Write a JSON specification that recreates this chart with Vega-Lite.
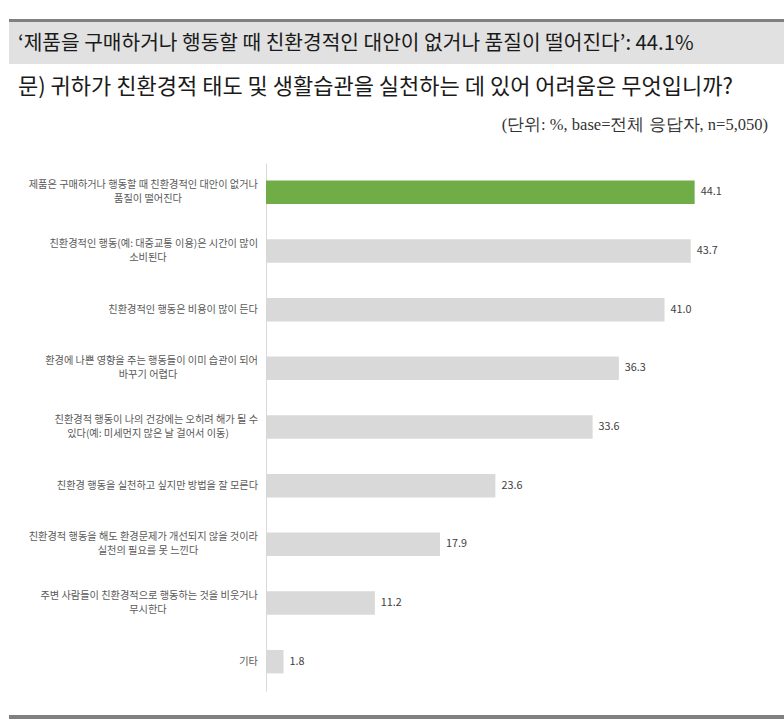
{
  "$schema": "https://vega.github.io/schema/vega-lite/v6.json",
  "padding": {"left": 9, "top": 19, "right": 0, "bottom": 0},
  "background": "white",
  "config": {
    "view": {"stroke": null},
    "concat": {"spacing": 0},
    "title": {"font": "Noto Sans CJK KR", "fontWeight": "normal", "color": "#1a1a1a"}
  },
  "spacing": 0,
  "vconcat": [
    {
      "width": 775, "height": 3,
      "view": {"fill": "#808080", "stroke": null},
      "data": {"values": []},
      "mark": "point"
    },
    {
      "width": 775, "height": 42,
      "view": {"fill": "#e1e1e1", "stroke": null},
      "data": {"values": []},
      "mark": "point",
      "title": {
        "text": "‘제품을 구매하거나 행동할 때 친환경적인 대안이 없거나 품질이 떨어진다’: 44.1%",
        "orient": "bottom", "anchor": "start", "offset": -30, "dx": 9,
        "fontSize": 20.3
      }
    },
    {
      "width": 775, "height": 44,
      "data": {"values": []},
      "mark": "point",
      "title": {
        "text": "문) 귀하가 친환경적 태도 및 생활습관을 실천하는 데 있어 어려움은 무엇입니까?",
        "orient": "bottom", "anchor": "start", "offset": -31, "dx": 9,
        "fontSize": 22
      }
    },
    {
      "width": 775, "height": 55,
      "data": {"values": []},
      "mark": "point",
      "title": {
        "text": "(단위: %, base=전체 응답자, n=5,050)",
        "orient": "bottom", "anchor": "end", "offset": -46, "dx": -16,
        "fontSize": 16.5, "font": "Liberation Serif", "color": "#333333"
      }
    },
    {
      "bounds": "flush",
      "spacing": 0,
      "hconcat": [
        {
          "width": 257, "height": 528,
          "data": {"values": []},
          "mark": "point"
        },
        {
          "width": 486, "height": 528,
          "data": {
            "values": [
              {"item": "제품은 구매하거나 행동할 때 친환경적인 대안이 없거나", "line2": "품질이 떨어진다", "value": 44.1},
              {"item": "친환경적인 행동(예: 대중교통 이용)은 시간이 많이", "line2": "소비된다", "value": 43.7},
              {"item": "친환경적인 행동은 비용이 많이 든다", "line2": "", "value": 41.0},
              {"item": "환경에 나쁜 영향을 주는 행동들이 이미 습관이 되어", "line2": "바꾸기 어렵다", "value": 36.3},
              {"item": "친환경적 행동이 나의 건강에는 오히려 해가 될 수", "line2": "있다(예: 미세먼지 많은 날 걸어서 이동)", "value": 33.6},
              {"item": "친환경 행동을 실천하고 싶지만 방법을 잘 모른다", "line2": "", "value": 23.6},
              {"item": "친환경적 행동을 해도 환경문제가 개선되지 않을 것이라", "line2": "실천의 필요를 못 느낀다", "value": 17.9},
              {"item": "주변 사람들이 친환경적으로 행동하는 것을 비웃거나", "line2": "무시한다", "value": 11.2},
              {"item": "기타", "line2": "", "value": 1.8}
            ]
          },
          "encoding": {
            "y": {
              "field": "item", "type": "nominal", "sort": null,
              "scale": {"paddingInner": 0.6, "paddingOuter": 0.3},
              "axis": {
                "title": null, "labels": false,
                "domainColor": "#d9d9d9", "domainWidth": 1,
                "ticks": false, "tickSize": 0
              }
            }
          },
          "layer": [
            {
              "mark": {"type": "bar"},
              "encoding": {
                "x": {"field": "value", "type": "quantitative", "scale": {"domain": [0, 50], "nice": false}, "axis": null},
                "color": {"condition": {"test": "datum.value > 44", "value": "#70AD47"}, "value": "#D9D9D9"}
              }
            },
            {
              "mark": {"type": "text", "align": "left", "baseline": "middle", "dx": 6, "font": "Noto Sans CJK KR", "fontSize": 10.8, "color": "#404040"},
              "encoding": {
                "x": {"field": "value", "type": "quantitative"},
                "text": {"field": "value", "type": "quantitative", "format": ".1f"}
              }
            },
            {
              "transform": [{"filter": "datum.line2 == ''"}],
              "mark": {"type": "text", "align": "right", "baseline": "middle", "dx": -8, "font": "Noto Sans CJK KR", "fontSize": 10.2, "color": "#595959"},
              "encoding": {
                "x": {"datum": 0, "type": "quantitative"},
                "text": {"field": "item"}
              }
            },
            {
              "transform": [{"filter": "datum.line2 != ''"}],
              "mark": {"type": "text", "align": "right", "baseline": "middle", "dx": -8, "dy": -7, "font": "Noto Sans CJK KR", "fontSize": 10.2, "color": "#595959"},
              "encoding": {
                "x": {"datum": 0, "type": "quantitative"},
                "text": {"field": "item"}
              }
            },
            {
              "transform": [{"filter": "datum.line2 != ''"}],
              "mark": {"type": "text", "align": "center", "baseline": "middle", "dx": -118, "dy": 7, "font": "Noto Sans CJK KR", "fontSize": 10.2, "color": "#595959"},
              "encoding": {
                "x": {"datum": 0, "type": "quantitative"},
                "text": {"field": "line2"}
              }
            }
          ]
        }
      ]
    },
    {
      "width": 775, "height": 24,
      "data": {"values": []},
      "mark": "point"
    },
    {
      "width": 775, "height": 4,
      "view": {"fill": "#808080", "stroke": null},
      "data": {"values": []},
      "mark": "point"
    }
  ]
}
